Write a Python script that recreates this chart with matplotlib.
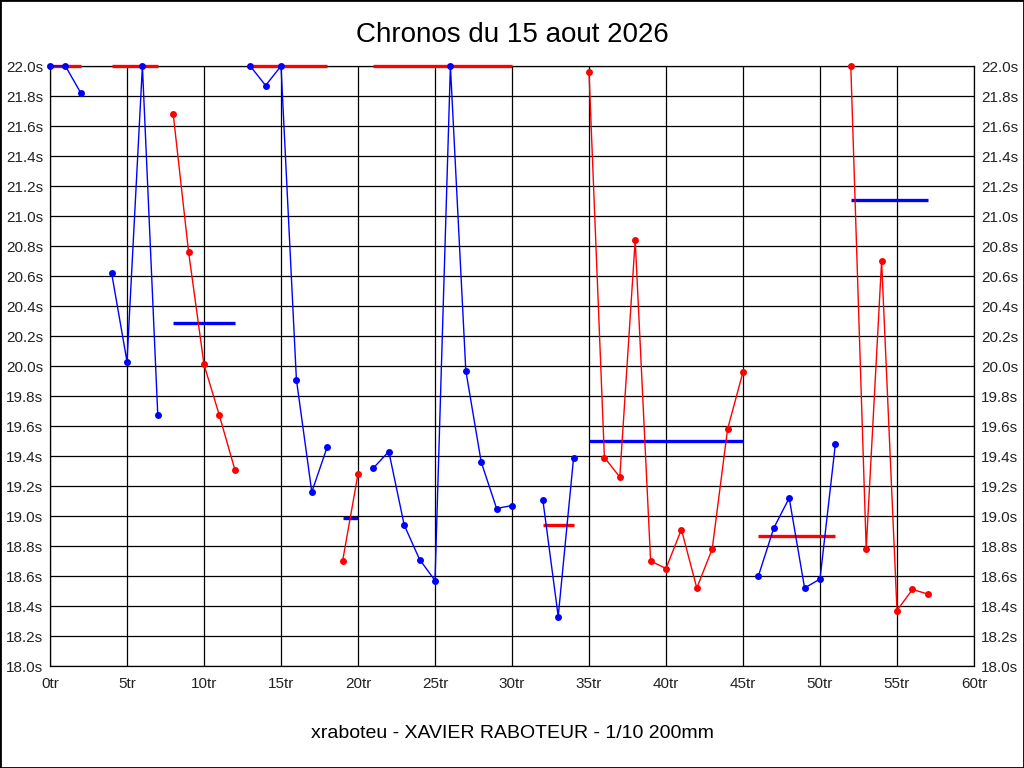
import matplotlib
matplotlib.use("Agg")
import matplotlib.pyplot as plt
from matplotlib.patches import Rectangle

plt.rcParams["font.family"] = ["Liberation Sans", "DejaVu Sans"]

BLUE = "#0000ff"
RED = "#ff0000"

# lap times per run (values above 22.0s are shown clipped at the top)
seg_laps = [
    [0, 1, 2],
    [4, 5, 6, 7],
    [8, 9, 10, 11, 12],
    [13, 14, 15, 16, 17, 18],
    [19, 20],
    [21, 22, 23, 24, 25, 26, 27, 28, 29, 30],
    [32, 33, 34],
    [35, 36, 37, 38, 39, 40, 41, 42, 43, 44, 45],
    [46, 47, 48, 49, 50, 51],
    [52, 53, 54, 55, 56, 57],
]
seg_times = [
    [22.0, 22.0, 21.82],
    [20.62, 20.03, 22.0, 19.67],
    [21.68, 20.76, 20.01, 19.67, 19.31],
    [22.0, 21.87, 22.0, 19.91, 19.16, 19.46],
    [18.70, 19.28],
    [19.32, 19.43, 18.94, 18.71, 18.57, 22.0, 19.97, 19.36, 19.05, 19.07],
    [19.11, 18.33, 19.39],
    [21.96, 19.39, 19.26, 20.84, 18.70, 18.65, 18.91, 18.52, 18.78, 19.58, 19.96],
    [18.60, 18.92, 19.12, 18.52, 18.58, 19.48],
    [22.0, 18.78, 20.70, 18.37, 18.51, 18.48],
]
seg_colors = [BLUE, BLUE, RED, BLUE, RED, BLUE, BLUE, RED, BLUE, RED]

# mean of each run (clipped at 22.0s)
seg_means = [22.0, 22.0, 20.29, 22.0, 18.99, 22.0, 18.94, 19.50, 18.87, 21.11]
mean_colors = [RED, RED, BLUE, RED, BLUE, RED, RED, BLUE, RED, BLUE]

y_ticks = [18.0 + 0.2 * i for i in range(21)]
x_ticks = list(range(0, 61, 5))

fig = plt.figure(figsize=(10.24, 7.68), dpi=100, facecolor="white")
ax = fig.add_axes([50 / 1024, 102 / 768, 924 / 1024, 600 / 768])

for laps, m, col in zip(seg_laps, seg_means, mean_colors):
    ax.plot([laps[0], laps[-1]], [m, m], color=col, linewidth=2.4,
            solid_capstyle="butt", zorder=3, clip_on=False)

for laps, times, col in zip(seg_laps, seg_times, seg_colors):
    ax.plot(laps, times, color=col, linewidth=1.0, marker="o",
            markersize=5, markeredgewidth=0, zorder=4, clip_on=False)

ax.set_xlim(0, 60)
ax.set_ylim(18.0, 22.0)
ax.set_xticks(x_ticks)
ax.set_xticklabels([f"{v}tr" for v in x_ticks])
ax.set_yticks(y_ticks)
ax.set_yticklabels([f"{v:.1f}s" for v in y_ticks])
ax.grid(True, color="black", linewidth=0.9)
ax.set_axisbelow(True)
for sp in ax.spines.values():
    sp.set_linewidth(0.9)
ax.tick_params(length=0, labelsize=11, labelcolor="#222222",
               labelright=True, pad=5)
ax.tick_params(axis="x", pad=8)

fig.text(0.5, 1 - 35 / 768, "Chronos du 15 aout 2026",
         fontsize=20, ha="center", va="center")
fig.text(0.5, 1 - 733 / 768, "xraboteu - XAVIER RABOTEUR - 1/10 200mm",
         fontsize=14, ha="center", va="center")

fig.add_artist(Rectangle((0, 0), 1, 1, transform=fig.transFigure,
                         fill=False, edgecolor="black", linewidth=2))

fig.savefig("out.png", dpi=100, facecolor="white")
